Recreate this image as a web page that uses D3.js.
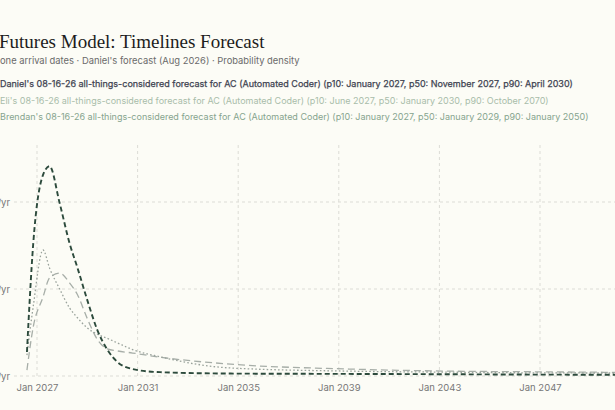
<!DOCTYPE html>
<html><head><meta charset="utf-8">
<script src="https://cdn.jsdelivr.net/npm/d3@7"></script>
<style>
html,body{margin:0;padding:0;background:#fcfcf6;overflow:hidden;}
svg{display:block;}
</style></head>
<body>
<script>
// ---- data ----
const years = [2026.6, 2026.85, 2027.24, 2027.5, 2027.9, 2028.3, 2028.6, 2029.0, 2029.4, 2029.8, 2030.2, 2030.8, 2031.9, 2034.7, 2039.4, 2043.4, 2047.0, 2051.0];
const danielValues  = [6.9, 38, 57.8, 60.3, 49.7, 38, 31.3, 21.8, 13.2, 7.5, 4.0, 2.0, 1.1, 0.7, 0.6, 0.5, 0.4, 0.35];
const eliValues     = [1.7, 14.1, 22.7, 28.2, 29.6, 26.7, 23.5, 16.5, 10.5, 7.8, 7.2, 6.6, 5.4, 3.4, 2.0, 1.4, 1.2, 1.0];
const brendanValues = [6.0, 20, 36.2, 31.0, 25.0, 19.5, 16.8, 13.8, 12.0, 10.8, 9.5, 7.6, 5.5, 2.3, 1.4, 1.1, 0.9, 0.85];
const seriesNames = [
  "Daniel's 08-16-26 all-things-considered forecast for AC (Automated Coder) (p10: January 2027, p50: November 2027, p90: April 2030)",
  "Eli's 08-16-26 all-things-considered forecast for AC (Automated Coder) (p10: June 2027, p50: January 2030, p90: October 2070)",
  "Brendan's 08-16-26 all-things-considered forecast for AC (Automated Coder) (p10: January 2027, p50: January 2029, p90: January 2050)"
];
const xTickYears = [2027, 2031, 2035, 2039, 2043, 2047];
const yTickValues = [0, 25, 50];
const titleText = "Futures Model: Timelines Forecast";
const subtitleText = "one arrival dates · Daniel's forecast (Aug 2026) · Probability density";

const W = 615, H = 410;
const svg = d3.select("body").append("svg").attr("width", W).attr("height", H);

const x = d3.scaleLinear().domain([2027, 2047]).range([37, 540]);
const y = d3.scaleLinear().domain([0, 50]).range([376, 202]);

// title
svg.append("text").attr("x", -1).attr("y", 48)
  .attr("font-family", "Liberation Serif, serif").attr("font-size", 19).attr("fill", "#1d1d1d")
  .text(titleText);
svg.append("text").attr("x", 0).attr("y", 64)
  .attr("font-family", "Inter, sans-serif").attr("font-size", 9.4).attr("fill", "#6a6a6a")
  .text(subtitleText);

const legendColors = ["#3f4452", "#a9bdaa", "#86a48e"];
seriesNames.forEach((n, i) => {
  svg.append("text").attr("x", 0).attr("y", 87 + i * 16.5)
    .attr("font-family", "Inter, sans-serif").attr("font-size", 9)
    .attr("font-weight", 400).attr("fill", legendColors[i])
    .attr("stroke", i === 0 ? legendColors[i] : "none").attr("stroke-width", i === 0 ? 0.25 : 0)
    .text(n);
});

// grid
const g = svg.append("g");
g.selectAll("line.vg").data(xTickYears).enter().append("line")
  .attr("x1", d => x(d)).attr("x2", d => x(d)).attr("y1", 145).attr("y2", 376)
  .attr("stroke", "#dcdcd6").attr("stroke-dasharray", "3,3").attr("stroke-width", 1);
g.selectAll("line.hg").data(yTickValues).enter().append("line")
  .attr("x1", 14).attr("x2", W).attr("y1", d => y(d)).attr("y2", d => y(d))
  .attr("stroke", "#dcdcd6").attr("stroke-dasharray", "3,3").attr("stroke-width", 1);

// axes labels
const xAxis = d3.axisBottom(x).tickValues(xTickYears).tickSize(0).tickPadding(8)
  .tickFormat(d => "Jan " + d);
const xa = svg.append("g").attr("transform", "translate(0,376)").call(xAxis);
xa.select(".domain").remove();
xa.selectAll("text").attr("font-family", "Inter, sans-serif").attr("font-size", 9.5).attr("fill", "#777");

const yAxis = d3.axisLeft(y).tickValues(yTickValues).tickSize(0).tickPadding(0)
  .tickFormat(d => d + "%/yr");
const ya = svg.append("g").attr("transform", "translate(10,0)").call(yAxis);
ya.select(".domain").remove();
ya.selectAll("text").attr("font-family", "Inter, sans-serif").attr("font-size", 9.5).attr("fill", "#777");

// lines
const line = d3.line().x((d, i) => x(years[i])).y(d => y(d)).curve(d3.curveMonotoneX);
const series = [
  {v: eliValues, color: "#a7aea8", dash: "7,4", w: 1.3},
  {v: brendanValues, color: "#9aa39c", dash: "1.6,2.2", w: 1.3},
  {v: danielValues, color: "#2c4a3c", dash: "5,3", w: 1.9}
];
series.forEach(s => {
  svg.append("path").datum(s.v).attr("d", line)
    .attr("fill", "none").attr("stroke", s.color).attr("stroke-width", s.w)
    .attr("stroke-dasharray", s.dash);
});
</script>
</body></html>
